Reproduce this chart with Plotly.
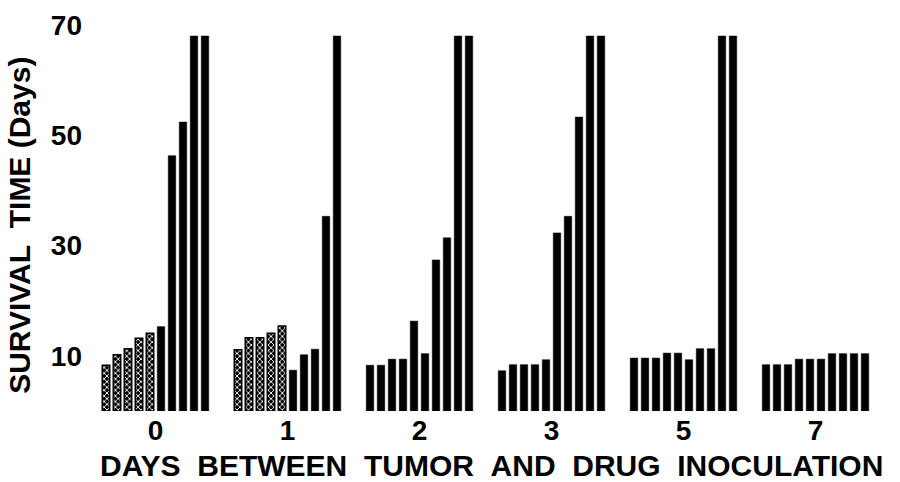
import plotly.graph_objects as go

# Days between tumor and drug inoculation (one group of bars each)
group_labels = ["0", "1", "2", "3", "5", "7"]

# Survival time (days) of each animal, sorted within each group
survival_day0 = [8.3, 10.2, 11.3, 13.2, 14.1, 15.3, 46.3, 52.4, 68, 68]
survival_day1 = [11.1, 13.3, 13.3, 14.1, 15.4, 7.4, 10.2, 11.2, 35.3, 68]
survival_day2 = [8.3, 8.3, 9.4, 9.4, 16.3, 10.4, 27.4, 31.4, 68, 68]
survival_day3 = [7.3, 8.4, 8.4, 8.4, 9.3, 32.3, 35.3, 53.3, 68, 68]
survival_day5 = [9.6, 9.6, 9.6, 10.5, 10.5, 9.3, 11.3, 11.3, 68, 68]
survival_day7 = [8.4, 8.4, 8.4, 9.4, 9.4, 9.4, 10.4, 10.4, 10.4, 10.4]

# Number of leading bars in each group drawn with the stippled fill
stippled_counts = [5, 5, 0, 0, 0, 0]

y_tick_values = [10, 30, 50, 70]

groups = [survival_day0, survival_day1, survival_day2,
          survival_day3, survival_day5, survival_day7]

SLOTS_PER_GROUP = 12  # 10 bars plus a two-bar gap

solid_x, solid_y, dot_x, dot_y = [], [], [], []
for g, (vals, n_dot) in enumerate(zip(groups, stippled_counts)):
    for i, v in enumerate(vals):
        pos = g * SLOTS_PER_GROUP + i
        if i < n_dot:
            dot_x.append(pos)
            dot_y.append(v)
        else:
            solid_x.append(pos)
            solid_y.append(v)

tick_positions = [g * SLOTS_PER_GROUP + 4.5 for g in range(len(group_labels))]

BAR_W = 0.68

fig = go.Figure()
fig.add_trace(go.Bar(
    x=solid_x, y=solid_y, width=BAR_W,
    marker=dict(color="black", line=dict(color="black", width=0.5)),
    showlegend=False, hoverinfo="skip",
))
fig.add_trace(go.Bar(
    x=dot_x, y=dot_y, width=BAR_W,
    marker=dict(
        color="black",
        line=dict(color="black", width=1.5),
        pattern=dict(shape="x", fgcolor="white", bgcolor="black",
                     size=4, solidity=0.4, fillmode="replace"),
    ),
    showlegend=False, hoverinfo="skip",
))

tick_font = dict(family="Liberation Sans", size=28, color="black", weight="bold")
title_font = dict(family="Liberation Sans", size=30, color="black", weight="bold")
sp = "\u00a0\u00a0"

fig.update_layout(
    width=900, height=482,
    margin=dict(l=90, r=10, t=10, b=71),
    paper_bgcolor="white", plot_bgcolor="white",
    barmode="overlay",
    xaxis=dict(
        range=[-16 / 11, -16 / 11 + 800 / 11],
        tickvals=tick_positions, ticktext=group_labels,
        showgrid=False, zeroline=False, showline=False, ticks="",
        tickfont=tick_font,
    ),
    yaxis=dict(
        range=[0, 401 / 5.57],
        tickvals=y_tick_values, ticktext=[str(v) for v in y_tick_values],
        showgrid=False, zeroline=False, showline=False, ticks="",
        tickfont=tick_font, ticklabelstandoff=7,
    ),
    annotations=[
        dict(text=sp.join(["DAYS", "BETWEEN", "TUMOR", "AND", "DRUG", "INOCULATION"]),
             x=492, y=466, showarrow=False, font=title_font),
        dict(text="SURVIVAL" + sp + "TIME\u00a0(Days)",
             x=20, y=224, textangle=-90, showarrow=False,
             font=dict(family="Liberation Sans", size=30, color="black", weight="bold")),
    ],
)

# Place the two axis titles in pixel coordinates of the page
for ann in fig.layout.annotations:
    ann.xref = "paper"
    ann.yref = "paper"
    ann.x = (ann.x - 90) / 800
    ann.y = (482 - 71 - ann.y) / (482 - 81)
    ann.xanchor = "center"
    ann.yanchor = "middle"

fig.write_html("out.html")
